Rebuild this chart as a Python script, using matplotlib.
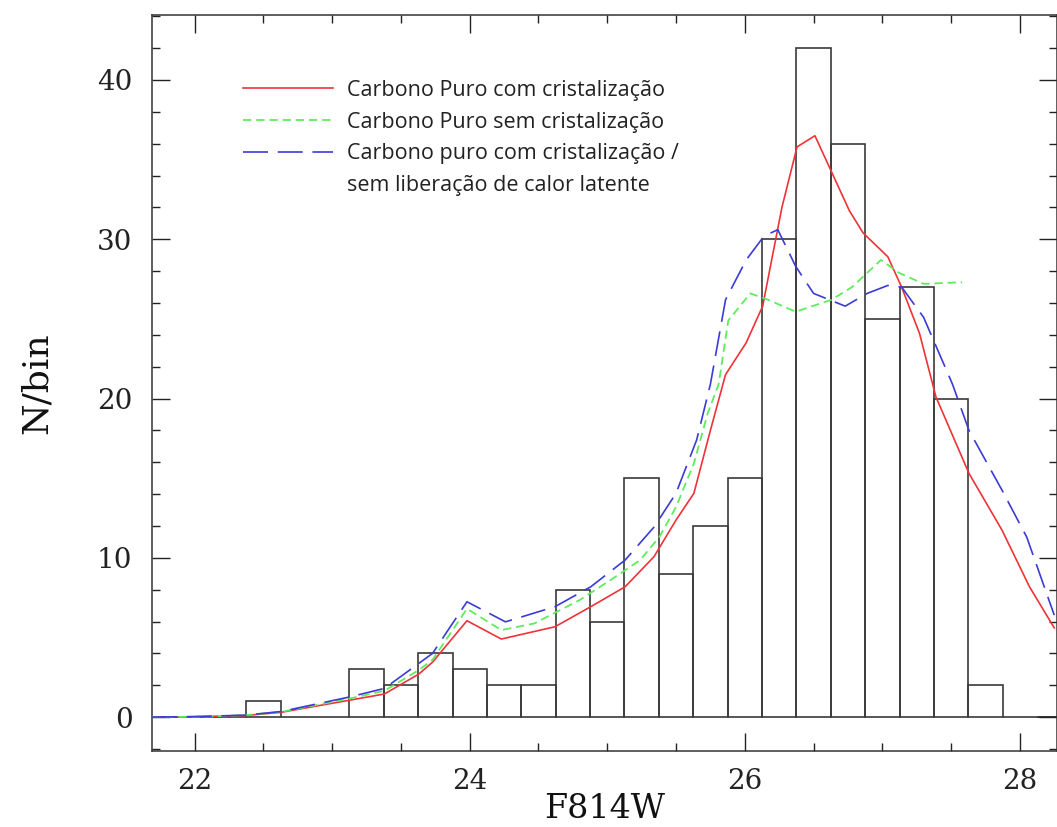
import matplotlib
matplotlib.use('Agg')
import numpy as np
import matplotlib.pyplot as plt
from matplotlib.ticker import MultipleLocator

# histogram: bin centers (width 0.25) and counts
bin_centers = np.arange(21.75, 28.26, 0.25)
counts = [0, 0, 0, 1, 0, 0, 3, 2, 4, 3, 2, 2, 8, 6, 15, 9, 12, 15,
          30, 42, 36, 25, 27, 20, 2, 0, 0]

# model curves
x_red = [21.69, 22.0, 22.37, 22.63, 23.12, 23.38, 23.63, 23.73, 23.98, 24.23,
         24.62, 24.88, 25.13, 25.34, 25.50, 25.63, 25.75, 25.86, 26.01, 26.13,
         26.27, 26.38, 26.51, 26.76, 26.86, 27.04, 27.14, 27.27, 27.39, 27.63,
         27.87, 28.07, 28.25]
y_red = [0.0, 0.02, 0.1, 0.3, 1.05, 1.45, 2.7, 3.45, 6.05, 4.9,
         5.67, 6.93, 8.18, 10.07, 12.37, 14.05, 18.0, 21.5, 23.5, 25.8,
         32.0, 35.8, 36.5, 31.8, 30.4, 28.9, 27.0, 24.1, 20.1, 15.3,
         11.74, 8.18, 5.6]

x_green = [21.69, 22.0, 22.37, 22.63, 23.12, 23.38, 23.63, 23.73, 23.98, 24.23,
           24.47, 24.80, 25.06, 25.24, 25.38, 25.50, 25.63, 25.73, 25.81, 25.88,
           26.04, 26.17, 26.37, 26.63, 26.78, 26.99, 27.12, 27.30, 27.58]
y_green = [0.0, 0.02, 0.12, 0.33, 1.15, 1.65, 2.95, 3.6, 6.8, 5.46,
           5.88, 7.35, 8.81, 9.86, 11.32, 13.19, 15.93, 19.06, 20.9, 24.9,
           26.6, 26.2, 25.45, 26.2, 27.0, 28.7, 27.9, 27.2, 27.3]

x_blue = [21.69, 22.0, 22.37, 22.63, 23.12, 23.38, 23.63, 23.73, 23.98, 24.26,
          24.62, 24.88, 25.13, 25.34, 25.50, 25.65, 25.75, 25.86, 26.01, 26.14,
          26.24, 26.37, 26.50, 26.73, 26.89, 27.04, 27.14, 27.30, 27.51, 27.63,
          27.87, 28.05, 28.25]
y_blue = [0.0, 0.03, 0.12, 0.35, 1.25, 1.8, 3.37, 4.0, 7.24, 5.98,
          6.93, 8.18, 9.86, 11.93, 14.05, 17.4, 20.9, 26.2, 28.7, 30.2,
          30.6, 28.3, 26.6, 25.8, 26.6, 27.1, 27.0, 25.1, 20.9, 18.0,
          14.25, 11.3, 6.4]

labels = ['Carbono Puro com cristalização',
          'Carbono Puro sem cristalização',
          'Carbono puro com cristalização /',
          'sem liberação de calor latente']

plt.rcParams['lines.scale_dashes'] = False

fig = plt.figure(figsize=(10.57, 8.27), dpi=100)
ax = fig.add_axes([152/1057, 1 - 751/827, 905/1057, 736/827])

ax.bar(bin_centers, counts, width=0.25, fill=False, edgecolor='#3a3a3a',
       linewidth=1.2, zorder=1)

l1, = ax.plot(x_red, y_red, color='#ee3338', lw=1.2, zorder=3)
l2, = ax.plot(x_green, y_green, color='#5eec5e', lw=1.3, dashes=(6, 3.5), zorder=3)
l3, = ax.plot(x_blue, y_blue, color='#3b3bd6', lw=1.2, dashes=(18, 7), zorder=3)
l4, = ax.plot([], [], color='none')

ax.set_xlim(21.69, 28.27)
ax.set_ylim(-2.13, 44.08)

ax.xaxis.set_major_locator(MultipleLocator(2))
ax.xaxis.set_minor_locator(MultipleLocator(0.5))
ax.yaxis.set_major_locator(MultipleLocator(10))
ax.yaxis.set_minor_locator(MultipleLocator(2))
ax.tick_params(which='both', direction='in', top=True, right=True, width=1.0,
               color='#222222')
ax.tick_params(which='major', length=13)
ax.tick_params(which='minor', length=6)
ax.tick_params(axis='x', pad=12)
ax.tick_params(axis='y', pad=14)
for lab in ax.get_xticklabels() + ax.get_yticklabels():
    lab.set_fontfamily('DejaVu Serif')
    lab.set_fontsize(20)
    lab.set_color('#222222')
for s in ax.spines.values():
    s.set_linewidth(1.1)
    s.set_color('#333333')

ax.set_xlabel('F814W', family='DejaVu Serif', fontsize=24, color='#111111')
ax.set_ylabel('N/bin', family='DejaVu Serif', fontsize=26, color='#111111')
ax.xaxis.set_label_coords(0.5, -0.057)
ax.yaxis.set_label_coords(-0.109, 0.5)

leg = ax.legend([l1, l2, l3, l4], labels, loc='upper left',
                bbox_to_anchor=(0.1006, 0.912), borderaxespad=0, borderpad=0,
                frameon=False, handlelength=4.2, handletextpad=0.65,
                labelspacing=0.5, prop={'family': 'Open Sans', 'size': 15.5})
for t in leg.get_texts():
    t.set_color('#222222')

fig.savefig('out.png', dpi=100)
